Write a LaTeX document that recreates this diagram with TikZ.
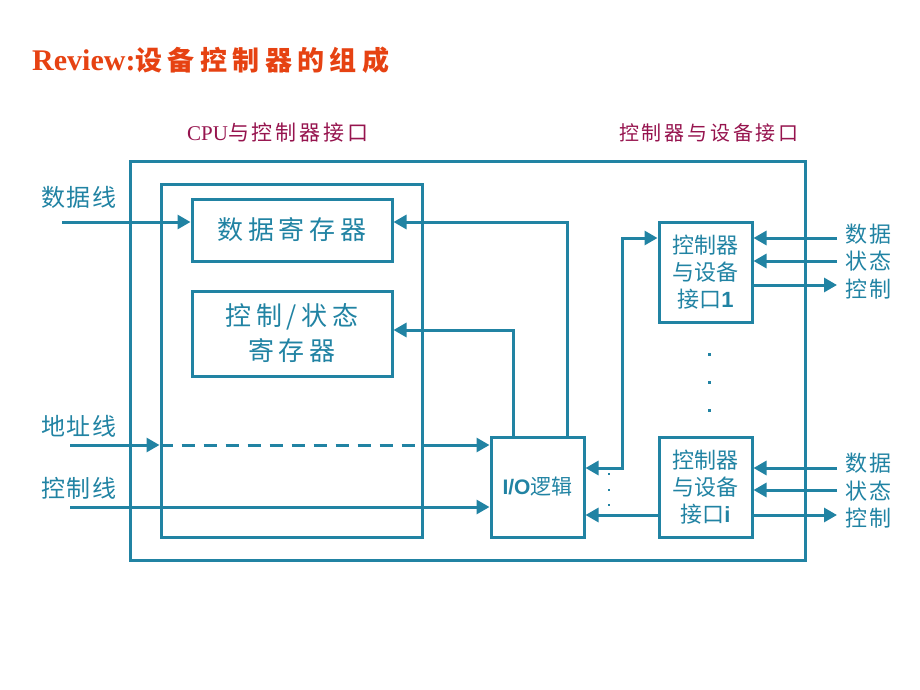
\documentclass[tikz,border=0pt]{standalone}
\usepackage{fontspec}
\setmainfont{Liberation Serif}
\setsansfont{Liberation Sans}
\newfontfamily\cjk{Noto Sans CJK SC}
\newfontfamily\cjktitle[LetterSpace=20]{Noto Sans CJK SC}
\newfontfamily\cjkreg[LetterSpace=18]{Noto Sans CJK SC}
\newfontfamily\cjkhead[LetterSpace=14]{Noto Sans CJK SC}
\newfontfamily\cjklbl[LetterSpace=8]{Noto Sans CJK SC}
\usetikzlibrary{arrows.meta}

\definecolor{busblue}{RGB}{33,131,163}
\definecolor{titlered}{RGB}{230,66,18}
\definecolor{headred}{RGB}{150,20,78}

\begin{document}
\begin{tikzpicture}[x=1pt,y=-1pt,
    box/.style={draw=busblue, line width=3pt, inner sep=0pt, text=busblue, align=center},
    wire/.style={busblue, line width=3pt},
    tip/.style={Triangle[length=13pt,width=14pt]},
    arr/.style={wire, -{Triangle[length=13pt,width=14pt]}},
    lbl/.style={text=busblue, inner sep=0pt, font=\cjklbl\fontsize{22}{22}\selectfont},
    dot/.style={fill=busblue, draw=none}]
    \useasboundingbox (0,0) rectangle (920,690);

    % Title
    \node[anchor=west, inner sep=0pt, text=titlered] (title) at (32,60)
        {\bfseries\fontsize{30}{30}\selectfont Review:\cjktitle\fontsize{27}{27}\selectfont 设备控制器的组成};

    % Interface headings
    \node[text=headred, inner sep=0pt] (cpuhead) at (278,133)
        {\fontsize{21}{21}\selectfont CPU\cjkhead 与控制器接口};
    \node[text=headred, inner sep=0pt] (devhead) at (709,133)
        {\cjkhead\fontsize{20}{20}\selectfont 控制器与设备接口};

    % Controller and CPU-side frame
    \node[box, minimum width=675pt, minimum height=399pt] (ctrl) at (467.5,360.5) {};
    \node[box, minimum width=261pt, minimum height=353pt] (cpuif) at (291.5,360.5) {};

    % Registers
    \node[box, minimum width=200pt, minimum height=62pt, font=\cjkreg\fontsize{26}{35}\selectfont] (dreg) at (292,230) {数据寄存器};
    \node[box, minimum width=200pt, minimum height=85pt, font=\cjkreg\fontsize{26}{35}\selectfont] (sreg) at (292,333.5) {控制/状态\\寄存器};

    % I/O logic
    \node[box, minimum width=93pt, minimum height=100pt, font=\fontsize{21}{21}\selectfont] (iol) at (537.5,487)
        {\sffamily\bfseries I/O\cjk\mdseries 逻辑};

    % Device interfaces
    \node[box, minimum width=93pt, minimum height=100pt, font=\cjk\fontsize{22}{27}\selectfont] (dif1) at (705.5,272) {控制器\\与设备\\接口\textsf{\bfseries 1}};
    \node[box, minimum width=93pt, minimum height=100pt, font=\cjk\fontsize{22}{27}\selectfont] (difi) at (705.5,487) {控制器\\与设备\\接口\textsf{\bfseries i}};

    % CPU-side lines
    \node[lbl, font=\cjklbl\fontsize{24}{24}\selectfont] (dlbl) at (79,197) {数据线};
    \node[lbl, font=\cjklbl\fontsize{24}{24}\selectfont] (albl) at (79,426) {地址线};
    \node[lbl, font=\cjklbl\fontsize{24}{24}\selectfont] (clbl) at (79,488) {控制线};
    \coordinate (dline) at (62,222);
    \coordinate (aline) at (70,445);
    \coordinate (cline) at (70,507);
    \draw[arr] (dline) -- (dline -| dreg.west);
    \draw[arr] (aline) -- (aline -| cpuif.west);
    \draw[wire, dash pattern=on 13pt off 9pt] (aline -| cpuif.west) -- (aline -| cpuif.east);
    \draw[arr] (aline -| cpuif.east) -- (aline -| iol.west);
    \draw[arr] (cline) -- (cline -| iol.west);

    % I/O logic to registers
    \coordinate (dup) at (567,222);
    \coordinate (statup) at (513,330);
    \draw[arr] (iol.north -| dup) -- (dup) -- (dup -| dreg.east);
    \draw[arr] (iol.north -| statup) -- (statup) -- (statup -| sreg.east);

    % I/O logic to device interfaces
    \coordinate (bus1) at (622,238);
    \coordinate (busio) at (622,468);
    \coordinate (busi) at (622,515);
    \draw[wire, {Triangle[length=13pt,width=14pt]}-{Triangle[length=13pt,width=14pt]}]
        (busio -| iol.east) -- (busio) -- (bus1) -- (bus1 -| dif1.west);
    \draw[arr] (busi -| difi.west) -- (busi -| iol.east);

    % Device-side signals
    \foreach \dev/\yd/\ys/\yc/\ld/\ls/\lc in {dif1/238/261/285/234/261/289, difi/468/490/515/463/491/518} {
        \node[lbl] (\dev-dl) at (868.5,\ld) {数据};
        \node[lbl] (\dev-sl) at (868.5,\ls) {状态};
        \node[lbl] (\dev-cl) at (868.5,\lc) {控制};
        \coordinate (\dev-d) at (837,\yd);
        \coordinate (\dev-s) at (837,\ys);
        \coordinate (\dev-c) at (837,\yc);
        \draw[arr] (\dev-d) -- (\dev-d -| \dev.east);
        \draw[arr] (\dev-s) -- (\dev-s -| \dev.east);
        \draw[arr] (\dev-c -| \dev.east) -- (\dev-c);
    }

    % Ellipsis dots
    \foreach \y in {354,382,410}
        \fill[dot] (707.5,\y-1.5) rectangle ++(3,3);
    \foreach \y in {474,490,505}
        \fill[dot] (608,\y-1) rectangle ++(2,2);

\end{tikzpicture}
\end{document}
